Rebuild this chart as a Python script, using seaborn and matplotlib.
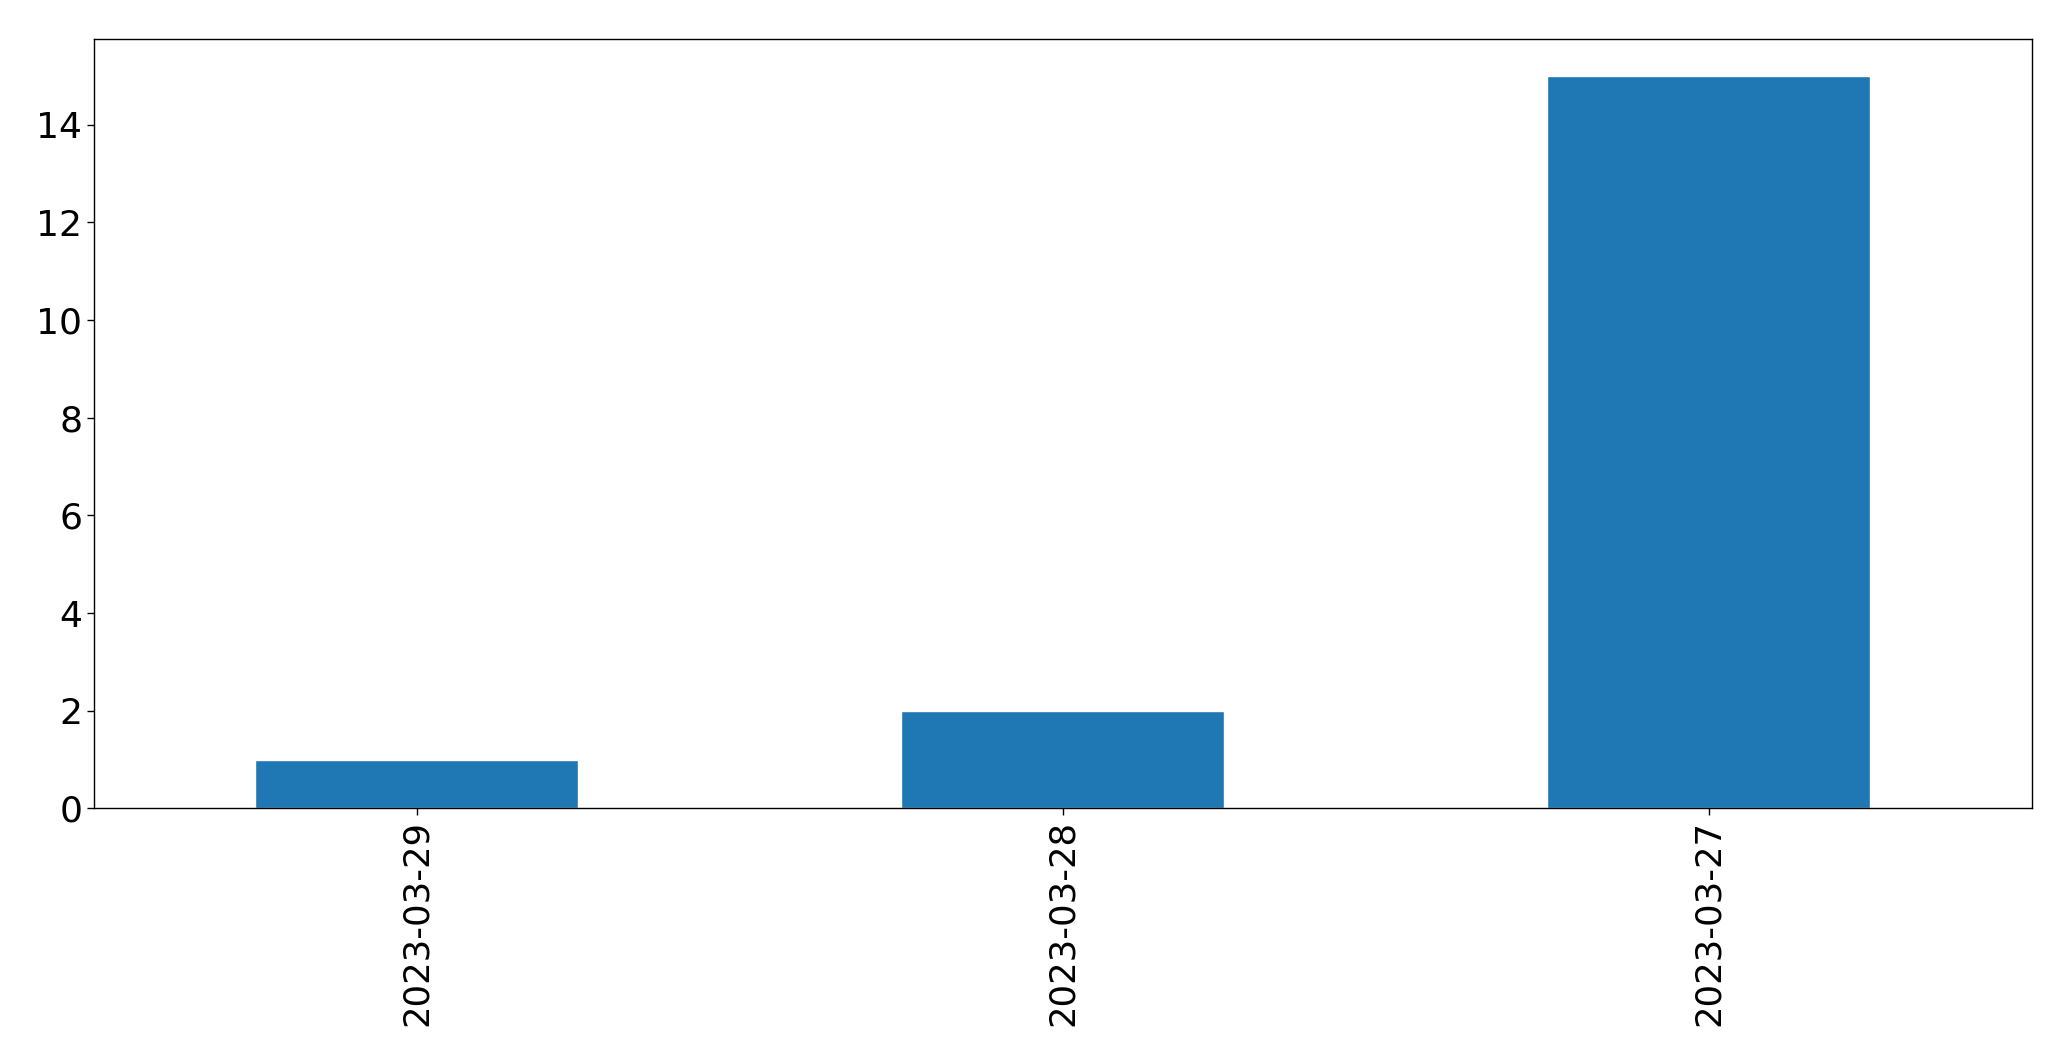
import matplotlib
matplotlib.use("Agg")
import matplotlib.pyplot as plt
import seaborn as sns
import pandas as pd

dates = ["2023-03-29", "2023-03-28", "2023-03-27"]
counts = [1, 2, 15]

df = pd.DataFrame({"date": dates, "count": counts})

sns.set_style("ticks")
plt.rcParams['font.family'] = ['DejaVu Sans']

fig = plt.figure(figsize=(20.71, 10.61), dpi=100)
ax = fig.add_axes([0.0454, 0.238, 0.981 - 0.0454, 0.963 - 0.238])
sns.barplot(data=df, x="date", y="count", color="#1f77b4", saturation=1,
            width=0.5, ax=ax, order=dates)
ax.set_xlim(-0.5, 2.5)
ax.set_ylim(0, 15.75)
ax.set_xlabel("")
ax.set_ylabel("")
ax.tick_params(axis="x", labelsize=25.5, length=4.9, width=1, colors="black")
ax.tick_params(axis="y", labelsize=26, length=4.9, width=1, colors="black")
plt.setp(ax.get_xticklabels(), rotation=90)
for s in ax.spines.values():
    s.set_visible(True)
    s.set_color("black")
    s.set_linewidth(1)
fig.savefig("out.png", dpi=100)
